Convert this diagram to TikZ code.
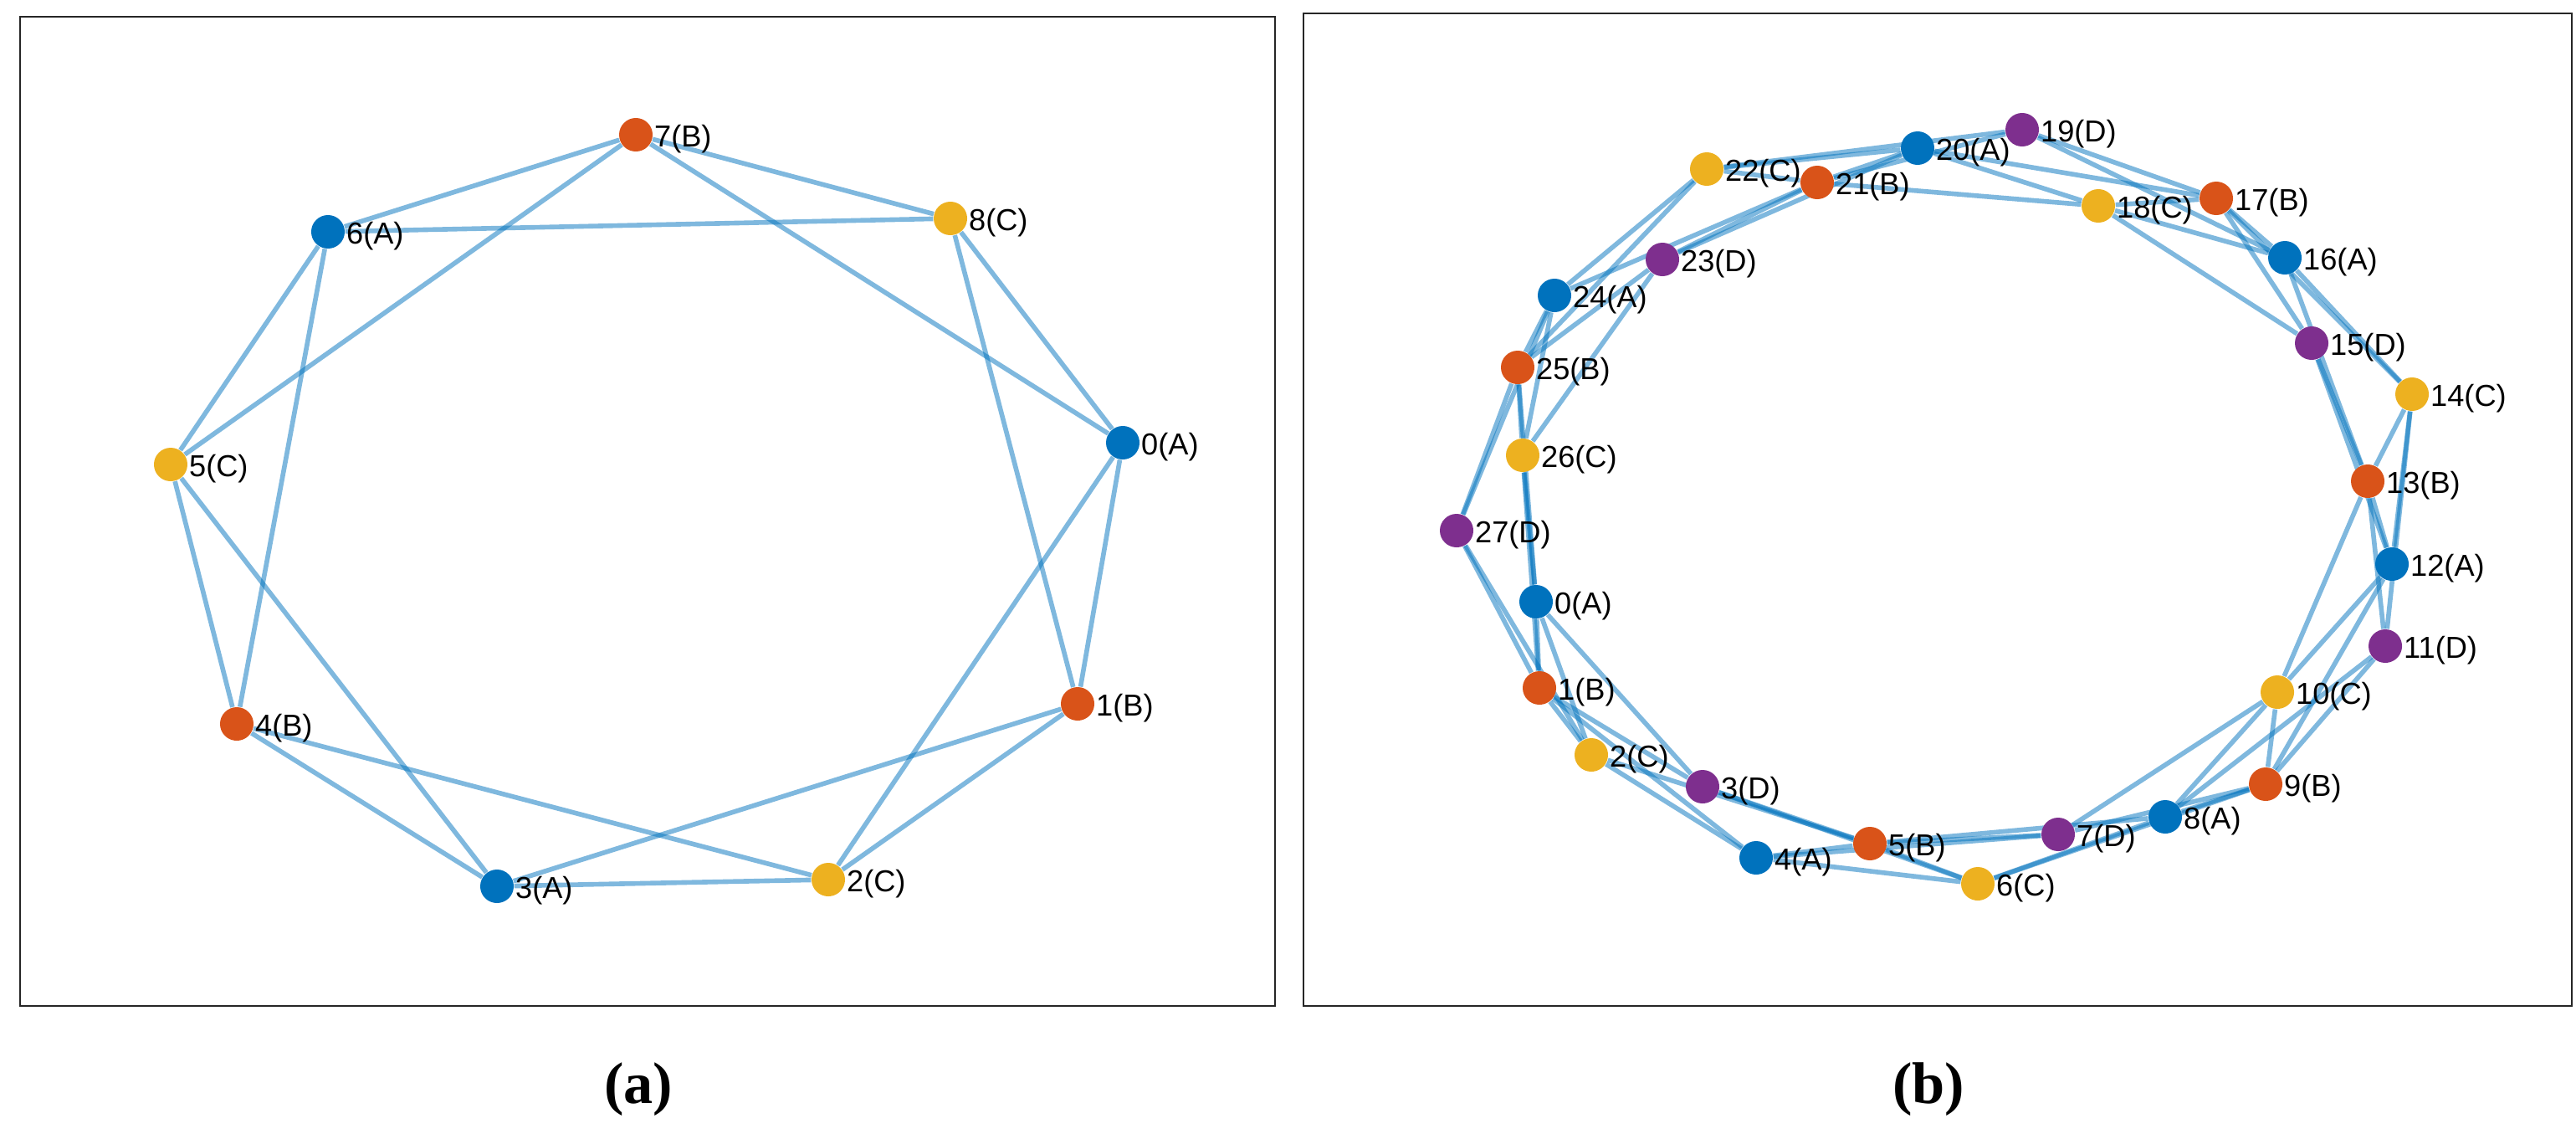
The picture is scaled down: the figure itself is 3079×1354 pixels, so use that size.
\documentclass[tikz,border=0pt]{standalone}
\usepackage{fontspec}
\setsansfont{Liberation Sans}
\setmainfont{Liberation Serif}
\usetikzlibrary{backgrounds}

\definecolor{clrA}{RGB}{0,114,189}
\definecolor{clrB}{RGB}{217,83,25}
\definecolor{clrC}{RGB}{237,177,32}
\definecolor{clrD}{RGB}{126,47,142}
\definecolor{framegray}{RGB}{38,38,38}

\begin{document}
\begin{tikzpicture}[
    x=0.01cm, y=-0.01cm,
    vert/.style={circle, inner sep=0pt, minimum size=0.4cm},
    grpA/.style={vert, fill=clrA},
    grpB/.style={vert, fill=clrB},
    grpC/.style={vert, fill=clrC},
    grpD/.style={vert, fill=clrD},
    lbl/.style={font=\sffamily\fontsize{10.3}{12}\selectfont, inner sep=0pt,
                label distance=0.2pt, yshift=-1.5pt},
    link/.style={draw=clrA, draw opacity=0.5, line width=1.6pt},
    panelbox/.style={draw=framegray, line width=0.6pt},
    subcap/.style={font=\rmfamily\bfseries\fontsize{20}{24}\selectfont}
  ]
    \useasboundingbox (0,0) rectangle (3079,1354);

    % (a) nine nodes
    \draw[panelbox] (24,20) rectangle (1524,1202);
    \node[grpA, label={[lbl]right:0(A)}] (a0) at (1342,529) {};
    \node[grpB, label={[lbl]right:1(B)}] (a1) at (1288,841) {};
    \node[grpC, label={[lbl]right:2(C)}] (a2) at (990,1051) {};
    \node[grpA, label={[lbl]right:3(A)}] (a3) at (594,1059) {};
    \node[grpB, label={[lbl]right:4(B)}] (a4) at (283,865) {};
    \node[grpC, label={[lbl]right:5(C)}] (a5) at (204,555) {};
    \node[grpA, label={[lbl]right:6(A)}] (a6) at (392,277) {};
    \node[grpB, label={[lbl]right:7(B)}] (a7) at (760,161) {};
    \node[grpC, label={[lbl]right:8(C)}] (a8) at (1136,261) {};
    \node[subcap] (capa) at (763,1302) {(a)};

    % (b) twenty-eight nodes
    \draw[panelbox] (1558,16) rectangle (3074,1202);
    \node[grpA, label={[lbl]right:0(A)}] (b0) at (1836,719) {};
    \node[grpB, label={[lbl]right:1(B)}] (b1) at (1840,822) {};
    \node[grpC, label={[lbl]right:2(C)}] (b2) at (1902,902) {};
    \node[grpD, label={[lbl]right:3(D)}] (b3) at (2035,940) {};
    \node[grpA, label={[lbl]right:4(A)}] (b4) at (2099,1025) {};
    \node[grpB, label={[lbl]right:5(B)}] (b5) at (2235,1008) {};
    \node[grpC, label={[lbl]right:6(C)}] (b6) at (2364,1056) {};
    \node[grpD, label={[lbl]right:7(D)}] (b7) at (2460,997) {};
    \node[grpA, label={[lbl]right:8(A)}] (b8) at (2588,976) {};
    \node[grpB, label={[lbl]right:9(B)}] (b9) at (2708,937) {};
    \node[grpC, label={[lbl]right:10(C)}] (b10) at (2722,827) {};
    \node[grpD, label={[lbl]right:11(D)}] (b11) at (2851,772) {};
    \node[grpA, label={[lbl]right:12(A)}] (b12) at (2859,674) {};
    \node[grpB, label={[lbl]right:13(B)}] (b13) at (2830,575) {};
    \node[grpC, label={[lbl]right:14(C)}] (b14) at (2883,471) {};
    \node[grpD, label={[lbl]right:15(D)}] (b15) at (2763,410) {};
    \node[grpA, label={[lbl]right:16(A)}] (b16) at (2731,308) {};
    \node[grpB, label={[lbl]right:17(B)}] (b17) at (2649,237) {};
    \node[grpC, label={[lbl]right:18(C)}] (b18) at (2508,246) {};
    \node[grpD, label={[lbl]right:19(D)}] (b19) at (2417,155) {};
    \node[grpA, label={[lbl]right:20(A)}] (b20) at (2292,177) {};
    \node[grpB, label={[lbl]right:21(B)}] (b21) at (2172,218) {};
    \node[grpC, label={[lbl]right:22(C)}] (b22) at (2040,202) {};
    \node[grpD, label={[lbl]right:23(D)}] (b23) at (1987,310) {};
    \node[grpA, label={[lbl]right:24(A)}] (b24) at (1858,353) {};
    \node[grpB, label={[lbl]right:25(B)}] (b25) at (1814,439) {};
    \node[grpC, label={[lbl]right:26(C)}] (b26) at (1820,544) {};
    \node[grpD, label={[lbl]right:27(D)}] (b27) at (1741,634) {};
    \node[subcap] (capb) at (2305,1302) {(b)};

    \begin{scope}[on background layer]
      \foreach \s/\t in {0/1,1/2,2/3,3/4,4/5,5/6,6/7,7/8,8/0,
                         0/2,1/3,2/4,3/5,4/6,5/7,6/8,7/0,8/1}
        \draw[link] (a\s) -- (a\t);
      % neighbours one step away, none of them a D node
      \foreach \s/\t in {0/1,1/2,4/5,5/6,8/9,9/10,12/13,13/14,16/17,17/18,
                         20/21,21/22,24/25,25/26}
        \draw[link] (b\s) -- (b\t);
      % two and three steps away
      \foreach \s/\t in {0/2,1/3,2/4,3/5,4/6,5/7,6/8,7/9,8/10,9/11,10/12,
                         11/13,12/14,13/15,14/16,15/17,16/18,17/19,18/20,
                         19/21,20/22,21/23,22/24,23/25,24/26,25/27,26/0,27/1,
                         0/3,1/4,2/5,3/6,4/7,5/8,6/9,7/10,8/11,9/12,10/13,
                         11/14,12/15,13/16,14/17,15/18,16/19,17/20,18/21,
                         19/22,20/23,21/24,22/25,23/26,24/27,25/0,26/1,27/2}
        \draw[link] (b\s) -- (b\t);
    \end{scope}
\end{tikzpicture}
\end{document}
